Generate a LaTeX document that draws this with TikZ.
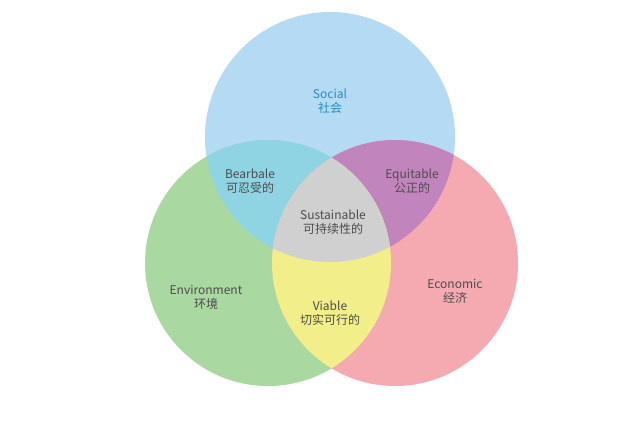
\documentclass[tikz,border=0pt]{standalone}
\usepackage{fontspec}
\setmainfont{Noto Sans CJK SC}
\begin{document}
\begin{tikzpicture}[x=1pt,y=-1pt,
  lbl/.style={align=center,font=\fontsize{12}{14}\selectfont,text=black!70}]
\useasboundingbox (0,0) rectangle (640,423);
\fill[white] (0,0) rectangle (640,423);
\definecolor{cS}{HTML}{B5DAF3}
\definecolor{cE}{HTML}{A9D8A1}
\definecolor{cC}{HTML}{F5AAB1}
\definecolor{cSE}{HTML}{8FD4E2}
\definecolor{cSC}{HTML}{C284BD}
\definecolor{cEC}{HTML}{F2EE8A}
\definecolor{cA}{HTML}{D0D0D0}
\def\S{(330,137) circle (125)}
\def\E{(268,263) circle (123)}
\def\C{(395,263) circle (123)}
\fill[cS] \S; \fill[cE] \E; \fill[cC] \C;
\begin{scope}\clip \S; \fill[cSE] \E; \fill[cSC] \C; \end{scope}
\begin{scope}\clip \E; \fill[cEC] \C; \end{scope}
\begin{scope}\clip \S; \clip \E; \fill[cA] \C; \end{scope}
\node[lbl,text={rgb,255:red,40;green,140;blue,190}] (soc) at (330,101) {Social\\社会};
\node[lbl] (bear) at (250,181) {Bearbale\\可忍受的};
\node[lbl] (equ) at (412,181) {Equitable\\公正的};
\node[lbl] (sus) at (333,222) {Sustainable\\可持续性的};
\node[lbl] (env) at (206,297) {Environment\\环境};
\node[lbl] (eco) at (455,291) {Economic\\经济};
\node[lbl] (via) at (330,313) {Viable\\切实可行的};
\end{tikzpicture}
\end{document}
